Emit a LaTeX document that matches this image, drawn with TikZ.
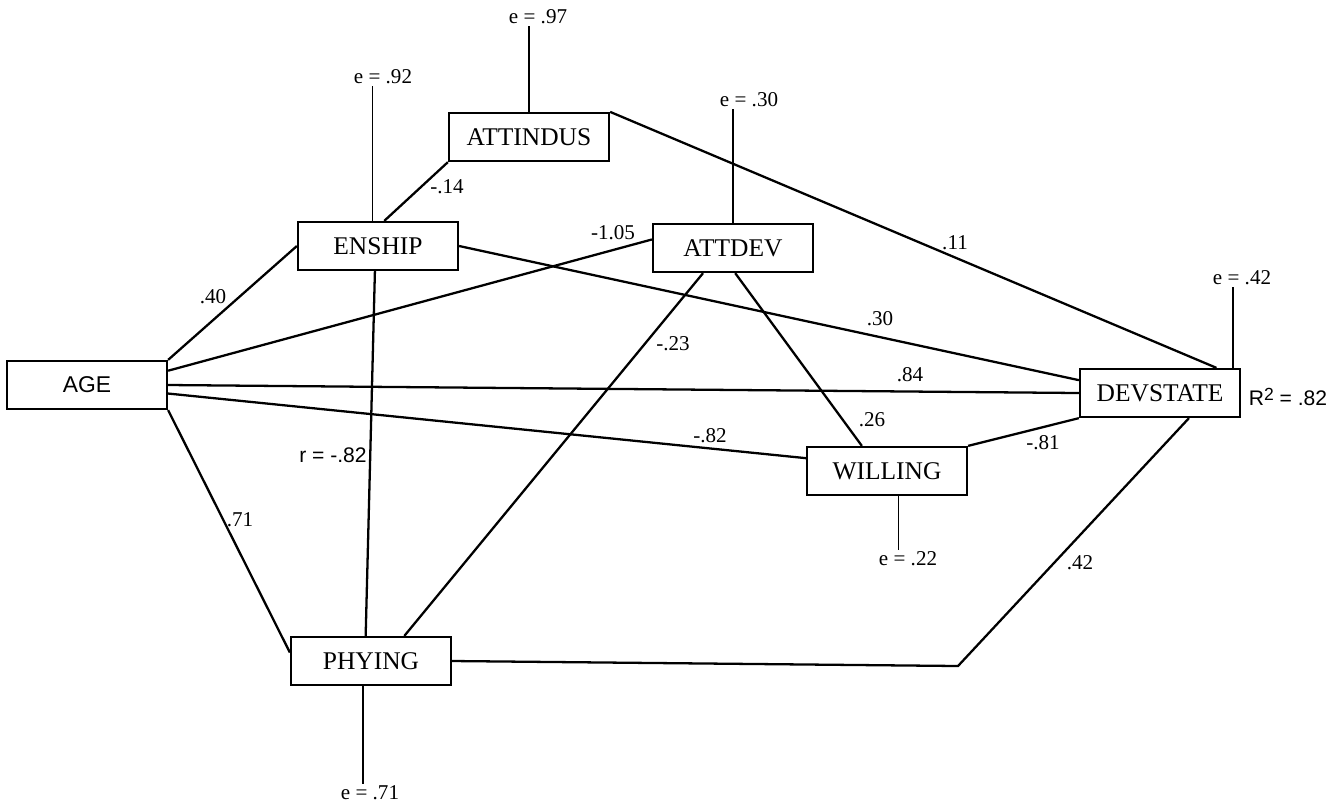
\documentclass[tikz,border=0pt]{standalone}
\usepackage{fontspec}
\setmainfont{Liberation Serif}
\setsansfont{Liberation Sans}
\usetikzlibrary{calc}

\tikzset{
  var/.style={draw, line width=1.3pt, minimum width=3.2cm, minimum height=0.96cm, inner sep=0pt, font=\fontsize{14.5}{16}\selectfont},
  link/.style={line width=1.3pt},
  err/.style={line width=0.8pt},
  coef/.style={font=\fontsize{12}{14}\selectfont, inner sep=1pt}
}

\begin{document}
\begin{tikzpicture}[x=0.02cm, y=-0.02cm]
\useasboundingbox (0,0) rectangle (1337,806);
% variables
\node[var] (attindus) at (529,137) {ATTINDUS};
\node[var] (enship) at (378,246) {ENSHIP};
\node[var] (attdev) at (733,248) {ATTDEV};
\node[var, font=\sffamily\fontsize{13}{15}\selectfont] (age) at (87,385) {AGE};
\node[var] (devstate) at (1160,393) {DEVSTATE};
\node[var] (willing) at (887,471) {WILLING};
\node[var] (phying) at (371,661) {PHYING};
\coordinate (bend) at (958,666);

% paths
\draw[link] (age.north east) -- (enship.west);
\draw[link] (age.10) -- (attdev.174);
\draw[link] (age.east) -- (devstate.west);
\draw[link] (age.-6) -- (willing.171);
\draw[link] (age.south east) -- (phying.174);
\draw[link] (enship.76) -- (attindus.south west);
\draw[link] (enship.east) -- (devstate.171);
\draw[link] (enship.263) -- (phying.102);
\draw[link] (attindus.north east) -- (devstate.24);
\draw[link] (attdev.220) -- (phying.37);
\draw[link] (attdev.275) -- (willing.135);
\draw[link] (willing.north east) -- (devstate.south west);
\draw[link] (phying.east) -- (bend) -- (devstate.-41);

% residuals
\foreach \n/\v/\a/\x/\y in {97/attindus/north/538/17, 92/enship/102/383/77, 30/attdev/north/749/100, 42/devstate/19/1242/278} {
  \node[coef] (e\n) at (\x,\y) {e = .\n};
  \draw[err] (\v.\a) -- (\v.\a |- e\n.south);
}
\foreach \n/\v/\a/\x/\y in {22/willing/-65/908/559, 71/phying/-108/370/793} {
  \node[coef] (e\n) at (\x,\y) {e = .\n};
  \draw[err] (\v.\a) -- (\v.\a |- e\n.north);
}

% coefficients
\foreach \t/\x/\y [count=\i] in {.40/213/297, -.14/447/187, -1.05/613/233, -.23/673/344, .11/955/243, .30/880/319, .84/910/375, .26/872/420, -.82/710/436, -.81/1043/443, .71/240/520, .42/1080/563}
  \node[coef] (c\i) at (\x,\y) {\t};
\node[coef, font=\sffamily\fontsize{12}{14}\selectfont] (rcor) at (333,455) {r = -.82};
\node[coef, font=\sffamily\fontsize{12}{14}\selectfont] (rsq) at (1288,397) {R\raisebox{0.45ex}{\fontsize{10}{12}\selectfont 2} = .82};
\end{tikzpicture}
\end{document}
